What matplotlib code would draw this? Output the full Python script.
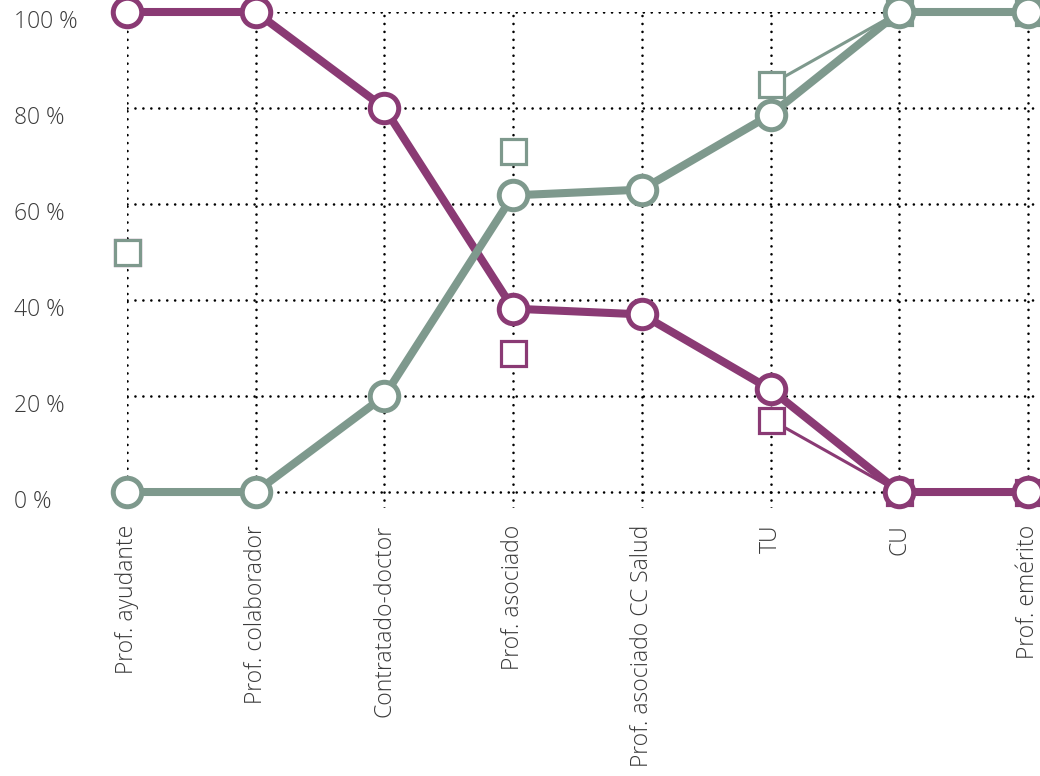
import numpy as np
import matplotlib
matplotlib.use("Agg")
import matplotlib.pyplot as plt
import matplotlib.transforms as mtransforms

# Categories and shares (%)
categorias = ['Prof. ayudante', 'Prof. colaborador', 'Contratado-doctor', 'Prof. asociado',
              'Prof. asociado CC Salud', 'TU', 'CU', 'Prof. emérito']
mujeres = [100, 100, 80, 38.2, 37.0, 21.4, 0, 0]
hombres = [0, 0, 20, 61.8, 63.0, 78.6, 100, 100]

# second series (square markers)
mujeres_b = [50, np.nan, np.nan, 29.0, np.nan, 15.1, 0, 0]
hombres_b = [50, np.nan, np.nan, 71.0, np.nan, 84.9, 100, 100]

yticks = [0, 20, 40, 60, 80, 100]
yticklabels = ['0 %', '20 %', '40 %', '60 %', '80 %', '100 %']

MORADO = '#8A3A74'
VERDE = '#7E998D'
TEXTO = '#3a3a3a'

plt.rcParams['font.family'] = ['Open Sans', 'DejaVu Sans']
plt.rcParams['font.weight'] = 'light'

fig = plt.figure(figsize=(10.4, 7.76), dpi=100)
ax = fig.add_axes([127 / 1040, 268 / 776, 913 / 1040, 496 / 776])

x = np.arange(len(categorias))

# squares + thin connecting lines (underneath)
ax.plot(x, mujeres_b, color=MORADO, lw=2.2, marker='s', ms=18, mew=2.3,
        mfc='white', mec=MORADO, zorder=3, clip_on=False)
ax.plot(x, hombres_b, color=VERDE, lw=2.2, marker='s', ms=18, mew=2.3,
        mfc='white', mec=VERDE, zorder=3, clip_on=False)

# main lines with circles
ax.plot(x, mujeres, color=MORADO, lw=5.8, marker='o', ms=20.5, mew=3.6,
        mfc='white', mec=MORADO, zorder=4, clip_on=False)
ax.plot(x, hombres, color=VERDE, lw=5.8, marker='o', ms=20.5, mew=3.6,
        mfc='white', mec=VERDE, zorder=4, clip_on=False)

ax.set_xlim(0, 913 / 128.7)
ax.set_ylim(-3.33, 100)

ax.set_yticks(yticks)
ax.set_yticklabels(yticklabels)
ax.set_xticks(x)
ax.set_xticklabels(categorias, rotation=90, ha='center', va='top')

ax.grid(True, color='black', linestyle=(0, (0.01, 3.0)), linewidth=1.9,
        dash_capstyle='round')
ax.set_axisbelow(True)
for s in ax.spines.values():
    s.set_visible(False)

ax.tick_params(axis='both', length=0, labelsize=16.5, colors=TEXTO)
ax.tick_params(axis='y', pad=81)
ax.tick_params(axis='x', pad=12)

off = mtransforms.ScaledTranslation(0, -7 / 100, fig.dpi_scale_trans)
for lab in ax.get_yticklabels():
    lab.set_horizontalalignment('left')
    lab.set_transform(lab.get_transform() + off)

fig.savefig('out.png', dpi=100)
